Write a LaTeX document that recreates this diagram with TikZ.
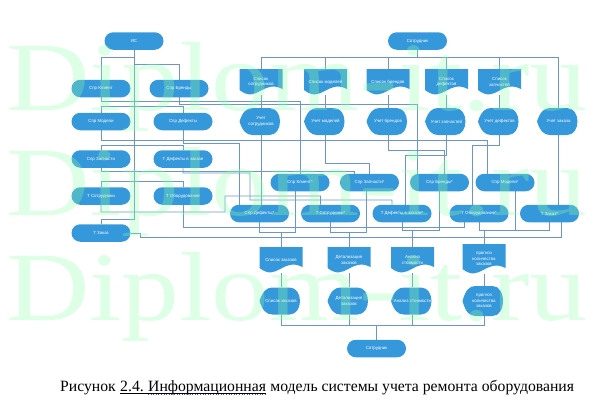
\documentclass[tikz,border=0pt]{standalone}
\usepackage{fontspec}
\usepackage{graphicx}
\setmainfont{Liberation Serif}
\newfontfamily\nf{Liberation Sans}
\usetikzlibrary{shapes.misc,backgrounds}
\definecolor{nb}{HTML}{3598DB}
\definecolor{ln}{HTML}{6A98C4}
\definecolor{wm}{HTML}{90FFA8}
\newcommand\nodefont{\nf\fontsize{4.4}{5.2}\selectfont}
\begin{document}
\begin{tikzpicture}[x=1pt,y=-1pt,
  stad/.style={rounded rectangle, minimum width=59pt, minimum height=17.5pt, inner sep=0pt, fill=nb, text=white, font=\nodefont, align=center},
  doc/.style={rectangle, minimum width=43pt, minimum height=26pt, inner sep=0pt, text=white, font=\nodefont, align=center,
    path picture={\fill[nb] (path picture bounding box.north west) -- (path picture bounding box.north east)
      -- ([yshift=6pt]path picture bounding box.south east)
      .. controls ([xshift=-20pt,yshift=16pt]path picture bounding box.south east) and ([xshift=18pt,yshift=-9pt]path picture bounding box.south west)
      .. ([yshift=5pt]path picture bounding box.south west) -- cycle;}},
  disp/.style={rectangle, minimum width=43pt, minimum height=27pt, inner sep=0pt, text=white, font=\nodefont, align=center,
    path picture={\fill[nb] (path picture bounding box.west)
      .. controls ([xshift=3pt,yshift=-4pt]path picture bounding box.north west) and ([xshift=7pt]path picture bounding box.north west)
      .. ([xshift=13pt]path picture bounding box.north west) -- ([xshift=-13pt]path picture bounding box.north east)
      .. controls ([xshift=1pt]path picture bounding box.north east) and ([xshift=1pt]path picture bounding box.south east)
      .. ([xshift=-13pt]path picture bounding box.south east) -- ([xshift=13pt]path picture bounding box.south west)
      .. controls ([xshift=7pt]path picture bounding box.south west) and ([xshift=3pt,yshift=4pt]path picture bounding box.south west)
      .. (path picture bounding box.west) -- cycle;}},
  con/.style={draw=ln, line width=0.6pt},
  wmark/.style={anchor=base, text=wm, opacity=0.3, font=\fontsize{98}{98}\selectfont, inner sep=0pt},
  capt/.style={anchor=base west, inner sep=0pt, font=\fontsize{15.7}{19}\selectfont}
]
\useasboundingbox (0,0) rectangle (596,402);

% left column
\node[stad] (is) at (134,41) {ИС};
\node[stad] (klient) at (101,88.5) {Спр Клиент};
\node[stad] (brendy) at (179,88.5) {Спр Бренды};
\node[stad] (modeli) at (101,121.5) {Спр Модели};
\node[stad] (defekty) at (183,121.5) {Спр Дефекты};
\node[stad] (zapch) at (101,159) {Спр Запчасти};
\node[stad] (tdefz) at (183,159) {Т Дефекты в заказе};
\node[stad] (tsotr) at (101,196) {Т Сотрудники};
\node[stad] (tobor) at (183,196) {Т Оборудование};
\node[stad] (tzakaz) at (101,233) {Т Заказ};

% top right
\node[stad] (sotr) at (417.5,41) {Сотрудник};
\node[doc] (ds) at (261,82) {Список\\сотрудников};
\node[doc] (dm) at (325.5,82) {Список моделей};
\node[doc] (db) at (388,82) {Список брендов};
\node[doc] (dd) at (446.5,82) {Список\\дефектов};
\node[doc] (dz) at (499.5,82) {Список\\запчастей};
\node[disp] (us) at (261,121.5) {Учет\\сотрудников};
\node[disp] (um) at (325.5,121.5) {Учет моделей};
\node[disp] (ub) at (388,121.5) {Учет брендов};
\node[disp] (uz) at (446.5,121.5) {Учет запчастей};
\node[disp] (ud) at (499.5,121.5) {Учет дефектов};
\node[disp] (uzak) at (558.5,121.5) {Учет заказа};

% middle rows
\node[stad] (klS) at (300,182.5) {Спр Клиент*};
\node[stad] (zapS) at (369.5,182.5) {Спр Запчасти*};
\node[stad] (brS) at (439.5,182.5) {Спр Бренды*};
\node[stad] (modS) at (505,182.5) {Спр Модели*};
\node[stad] (defS) at (259.5,213.5) {Спр Дефекты*};
\node[stad] (tsS) at (330.5,213.5) {Т Сотрудники*};
\node[stad] (tdzS) at (402,213.5) {Т Дефекты в заказе*};
\node[stad] (toS) at (479,213.5) {Т Оборудование*};
\node[stad] (tzS) at (549.5,213.5) {Т Заказ*};

% bottom
\node[doc] (bd1) at (281,260) {Список заказов};
\node[doc] (bd2) at (349,260) {Детализация\\заказов};
\node[doc] (bd3) at (412.5,260) {Анализ\\стоимости};
\node[doc, minimum height=30pt] (bd4) at (484,259) {прогноз\\количества\\заказов};
\node[disp] (bu1) at (281,301) {Список заказов};
\node[disp] (bu2) at (349,301) {Детализация\\заказов};
\node[disp] (bu3) at (412.5,301) {Анализ стоимости};
\node[disp, minimum height=30pt] (bu4) at (484,301) {прогноз\\количества\\заказов};
\node[stad] (sotr2) at (376.5,348.5) {Сотрудник};

\begin{pgfonlayer}{background}
% IS tree
\draw[con] (is.south) -- ++(0,7) -| (klient.north);
\draw[con] (is.south) -- ++(0,14) -| (brendy.north);
\draw[con] (is.south) -- (134,106) -| (modeli.north);
\draw[con] (is.south) -- (134,106) -| (defekty.north);
\draw[con] (is.south) -- (134,145) -| (zapch.north);
\draw[con] (is.south) -- (134,145) -| (tdefz.north);
\draw[con] (is.south) -- (134,181) -| (tsotr.north);
\draw[con] (is.south) -- (134,181) -| (tobor.north);
\draw[con] (is.south) -- (134,219) -| (tzakaz.north);
% left to middle
\draw[con] (klient.south) -- ++(0,3.5) -| (klS.north);
\draw[con] (brendy.south) -- ++(0,6.5) -| ([xshift=-22.5pt]brS.north);
\draw[con] (modeli.south) -- ++(0,10) -| ([xshift=-18pt]modS.north);
\draw[con] (defekty.south) -- ++(0,13) -| ([xshift=-20pt]defS.north);
\draw[con] (zapch.south) -- ++(0,3) -| ([xshift=-15pt]zapS.north);
\draw[con] (tdefz.south) -- ++(0,5) -- (250,173) -- (250,200) -| ([xshift=-10pt]tdzS.north);
\draw[con] (tsotr.south) -- ++(0,7) -- (225,212) -- (225,196) -| ([xshift=-10pt]tsS.north);
\draw[con] (tobor.south) -- ++(0,22) -| ([xshift=-15pt]toS.south);
\draw[con] (tzakaz.east) -- (140,233) -- (140,237) -| ([xshift=12pt]tzS.south);
% Sotrudnik to documents
\foreach \d in {ds,dm,db,dd,dz,uzak}{\draw[con] (sotr.south) -- ++(0,7) -| (\d.north);}
\draw[con] (ds.south) -- (us.north);
\draw[con] (dm.south) -- (um.north);
\draw[con] (db.south) -- (ub.north);
\draw[con] (dd.south) -- (uz.north);
\draw[con] (dz.south) -- (ud.north);
% uchet to middle
\draw[con] (us.south) -- (us.south |- defS.north);
\draw[con] (um.south) -- ++(0,28) -| (zapS.north);
\draw[con] (ub.south) -- ++(0,15) -| ([xshift=5pt]brS.north);
\draw[con] (uz.south) -- ++(0,20) -| ([xshift=3pt]tdzS.north);
\draw[con] (ud.south) -- ++(0,10) -| ([xshift=-6.5pt]toS.north);
\draw[con] (uzak.south) -- (uzak.south |- tzS.north);
% middle to bottom
\draw[con] (defS.south) -- ++(0,10) -| (bd1.north);
\draw[con] ([xshift=-5pt]klS.south) -- ++(0,41) -| (bd1.north);
\draw[con] (tsS.south) -- ++(0,10) -| (bd2.north);
\draw[con] ([xshift=-3pt]zapS.south) -- ++(0,41) -| (bd2.north);
\draw[con] (tdzS.south) -- ++(0,8) -| (bd3.north);
\draw[con] (brS.south) -- ++(0,39) -| (bd3.north);
\draw[con] (toS.south) -- ++(0,8) -| (bd4.north);
\draw[con] ([xshift=10pt]modS.south) -- ++(0,39) -| (bd4.north);
\draw[con] (tzS.south) -- ++(0,8) -| (bd4.north);
% bottom
\foreach \a/\b in {bd1/bu1,bd2/bu2,bd3/bu3,bd4/bu4}{\draw[con] (\a.south) -- (\b.north);}
\foreach \b in {bu1,bu2,bu3,bu4}{\draw[con] (\b.south) -- (\b.south |- 0,325) -| (sotr2.north);}
\end{pgfonlayer}

% watermark
\node[wmark] (w1) at (297,110) {\scalebox{1.18}[1]{Diplom-it.ru}};
\node[wmark] (w2) at (297,215) {\scalebox{1.18}[1]{Diplom-it.ru}};
\node[wmark] (w3) at (297,320) {\scalebox{1.18}[1]{Diplom-it.ru}};

% caption
\node[capt] (c1) at (60,391) {Рисунок};
\node[capt] (c2) at ([xshift=4pt]c1.base east) {2.4.};
\node[capt] (c3) at ([xshift=4pt]c2.base east) {Информационная};
\node[capt] (c4) at ([xshift=4pt]c3.base east) {модель системы учета ремонта оборудования};
\draw[line width=0.5pt] ([yshift=-2pt]c2.base west) -- ([yshift=-2pt]c3.base east);
\draw[blue!70, line width=0.6pt, dotted] ([yshift=-3.5pt]c3.base west) -- ([yshift=-3.5pt]c3.base east);
\end{tikzpicture}
\end{document}
